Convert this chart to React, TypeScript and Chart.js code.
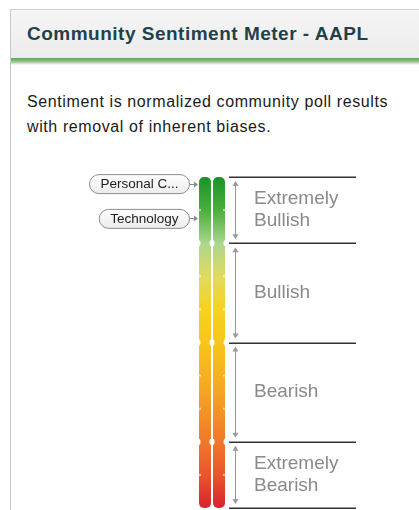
import React, { useEffect, useRef } from "react";
import { Chart, registerables } from "chart.js";

Chart.register(...registerables);

// ---- data ----
const meterColumns = ["left", "right"];
const meterLow = [0, 0];
const meterHigh = [100, 100];
const zoneBounds = [0, 20, 50, 80, 100];
const zoneLabels = [["Extremely", "Bearish"], ["Bearish"], ["Bullish"], ["Extremely", "Bullish"]];
const sectorLabels = ["Personal C...", "Technology"];
const sectorScores = [98, 87.5];
const notchValues = [20, 50, 80];
const dotValues = [10, 30, 40, 60, 70, 90];

const gradientStops: [number, string][] = [
  [0, "#d8222e"],
  [0.1, "#e9552c"],
  [0.2, "#f0782a"],
  [0.35, "#f5a424"],
  [0.5, "#f8c61b"],
  [0.6, "#f6d21e"],
  [0.7, "#e2da60"],
  [0.8, "#a9d68c"],
  [0.9, "#4aae3c"],
  [1, "#1a9428"],
];

const overlayPlugin = {
  id: "meterOverlay",
  afterDatasetsDraw(chart: any) {
    const ctx = chart.ctx as CanvasRenderingContext2D;
    const y = chart.scales.y;
    const meta = chart.getDatasetMeta(0);
    const bars = meta.data as any[];
    const meterLeft = Math.min(...bars.map((b) => b.x - b.width / 2));
    const meterRight = Math.max(...bars.map((b) => b.x + b.width / 2));
    ctx.save();

    // notches and dots on bar edges
    ctx.fillStyle = "#ffffff";
    bars.forEach((b) => {
      const l = b.x - b.width / 2;
      const r = b.x + b.width / 2;
      notchValues.forEach((v) => {
        const py = y.getPixelForValue(v);
        [l, r].forEach((ex) => {
          ctx.beginPath();
          ctx.ellipse(ex, py, 1.5, 3, 0, 0, Math.PI * 2);
          ctx.fill();
        });
      });
    });
    ctx.fillStyle = "rgba(255,255,255,0.7)";
    dotValues.forEach((v) => {
      const py = y.getPixelForValue(v);
      [meterLeft + 1, meterRight - 1].forEach((ex) => {
        ctx.beginPath();
        ctx.arc(ex, py, 1.1, 0, Math.PI * 2);
        ctx.fill();
      });
    });

    // zone boundary lines
    ctx.strokeStyle = "#333333";
    ctx.lineWidth = 1.5;
    zoneBounds.forEach((v) => {
      const py = Math.round(y.getPixelForValue(v)) + 0.25;
      ctx.beginPath();
      ctx.moveTo(meterRight + 4, py);
      ctx.lineTo(meterRight + 131, py);
      ctx.stroke();
    });

    // double arrows and labels
    const ax = meterRight + 10.5;
    ctx.strokeStyle = "#9a9a9a";
    ctx.fillStyle = "#9a9a9a";
    ctx.lineWidth = 1;
    for (let i = 0; i < zoneLabels.length; i++) {
      const top = y.getPixelForValue(zoneBounds[i + 1]) + 4;
      const bot = y.getPixelForValue(zoneBounds[i]) - 4;
      ctx.beginPath();
      ctx.moveTo(ax, top + 2);
      ctx.lineTo(ax, bot - 2);
      ctx.stroke();
      ctx.beginPath();
      ctx.moveTo(ax, top);
      ctx.lineTo(ax - 3, top + 5);
      ctx.lineTo(ax + 3, top + 5);
      ctx.closePath();
      ctx.fill();
      ctx.beginPath();
      ctx.moveTo(ax, bot);
      ctx.lineTo(ax - 3, bot - 5);
      ctx.lineTo(ax + 3, bot - 5);
      ctx.closePath();
      ctx.fill();
    }
    ctx.fillStyle = "#8a8a8a";
    ctx.font = "19px 'Liberation Sans', Arial, sans-serif";
    ctx.textBaseline = "middle";
    ctx.textAlign = "left";
    zoneLabels.forEach((lines, i) => {
      const mid = (y.getPixelForValue(zoneBounds[i]) + y.getPixelForValue(zoneBounds[i + 1])) / 2;
      const lh = 22;
      lines.forEach((t, k) => {
        const py = mid + (k - (lines.length - 1) / 2) * lh;
        ctx.fillText(t, meterRight + 29, py);
      });
    });

    // sector pills
    ctx.font = "13.5px 'Liberation Sans', Arial, sans-serif";
    sectorLabels.forEach((label, i) => {
      const py = y.getPixelForValue(sectorScores[i]);
      const tw = ctx.measureText(label).width;
      const right = meterLeft - 10;
      const w = tw + 22;
      const h = 19;
      const left = right - w;
      const top = py - h / 2;
      const grad = ctx.createLinearGradient(0, top, 0, top + h);
      grad.addColorStop(0, "#ffffff");
      grad.addColorStop(1, "#ececec");
      ctx.beginPath();
      ctx.roundRect(left + 0.5, top + 0.5, w, h, 9.5);
      ctx.fillStyle = grad;
      ctx.fill();
      ctx.strokeStyle = "#8c8c8c";
      ctx.lineWidth = 1;
      ctx.stroke();
      ctx.fillStyle = "#222222";
      ctx.textAlign = "center";
      ctx.fillText(label, left + w / 2 + 0.5, py + 1);
      // connector arrow
      ctx.strokeStyle = "#8c8c8c";
      ctx.beginPath();
      ctx.moveTo(right + 1, Math.round(py) + 0.5);
      ctx.lineTo(meterLeft - 2, Math.round(py) + 0.5);
      ctx.stroke();
      ctx.fillStyle = "#8c8c8c";
      ctx.beginPath();
      ctx.moveTo(meterLeft - 1, Math.round(py) + 0.5);
      ctx.lineTo(meterLeft - 5, Math.round(py) - 2.5);
      ctx.lineTo(meterLeft - 5, Math.round(py) + 3.5);
      ctx.closePath();
      ctx.fill();
    });
    ctx.restore();
  },
};

export default function App() {
  const canvasRef = useRef<HTMLCanvasElement | null>(null);

  useEffect(() => {
    if (!canvasRef.current) return;
    const chart = new Chart(canvasRef.current, {
      type: "bar",
      data: {
        labels: meterColumns,
        datasets: [
          {
            data: meterColumns.map((_, i) => [meterLow[i], meterHigh[i]]) as any,
            backgroundColor: (c: any) => {
              const area = c.chart.chartArea;
              if (!area) return "#f8c61b";
              const g = c.chart.ctx.createLinearGradient(0, area.bottom, 0, area.top);
              gradientStops.forEach(([t, col]) => g.addColorStop(t, col));
              return g;
            },
            borderWidth: 0,
            borderRadius: 5,
            borderSkipped: false,
            barPercentage: 12 / 14,
            categoryPercentage: 1,
          },
        ],
      },
      options: {
        responsive: false,
        animation: false,
        layout: { padding: { left: 198, right: 193, top: 17, bottom: 2 } },
        plugins: { legend: { display: false }, tooltip: { enabled: false } },
        scales: {
          x: { display: false },
          y: { display: false, min: 0, max: 100 },
        },
      },
      plugins: [overlayPlugin],
    });
    return () => chart.destroy();
  }, []);

  return (
    <div style={{ position: "absolute", left: 0, top: 0, width: 419, height: 510, overflow: "hidden", background: "#fff" }}>
      <div
        style={{
          position: "absolute",
          left: 10,
          top: 9,
          width: 409,
          height: 501,
          borderLeft: "1px solid #c8c8c8",
          borderTop: "1px solid #d2d2d2",
        }}
      >
        <div style={{ height: 48, background: "linear-gradient(#f5f5f5, #ececec)", position: "relative" }}>
          <div
            style={{
              position: "absolute",
              left: 16,
              top: 13,
              font: "bold 19px 'Liberation Sans', Arial, sans-serif",
              letterSpacing: "0.5px",
              lineHeight: "22px",
              color: "#1f4249",
              whiteSpace: "nowrap",
            }}
          >
            Community Sentiment Meter - AAPL
          </div>
        </div>
        <div style={{ height: 7, background: "linear-gradient(#5aa55a, #8fc48a 50%, #ffffff)" }} />
        <div
          style={{
            position: "absolute",
            left: 16,
            top: 80,
            font: "16px 'Liberation Sans', Arial, sans-serif",
            letterSpacing: "0.6px",
            lineHeight: "24.5px",
            color: "#1a1a1a",
            whiteSpace: "nowrap",
          }}
        >
          Sentiment is normalized community poll results
          <br />
          with removal of inherent biases.
        </div>
      </div>
      <canvas
        ref={canvasRef}
        width={419}
        height={350}
        style={{ position: "absolute", left: 0, top: 160, width: 419, height: 350 }}
      />
    </div>
  );
}
